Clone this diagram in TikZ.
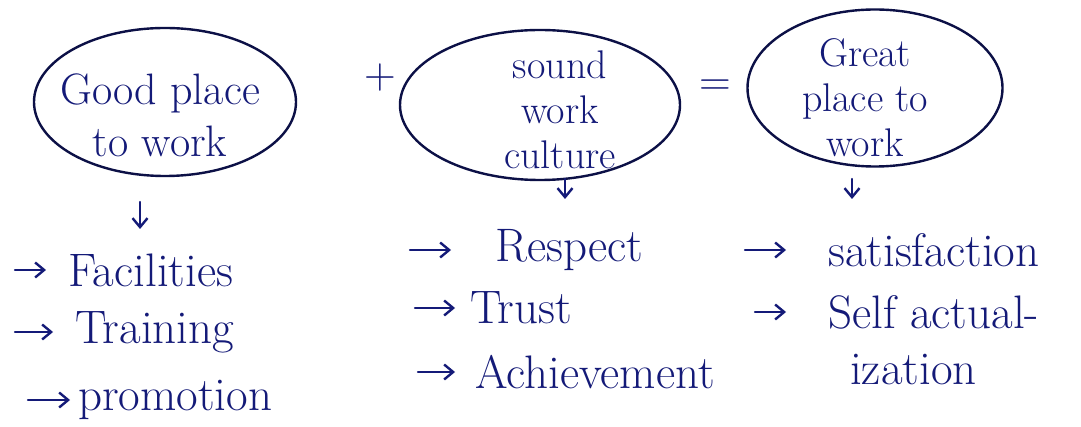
\documentclass[tikz,border=0pt]{standalone}
\usetikzlibrary{arrows.meta,shapes.geometric}
\definecolor{ink}{RGB}{20,26,120}
\definecolor{inkdark}{RGB}{12,16,70}
\begin{document}
\begin{tikzpicture}[x=1pt,y=-1pt,
  blob/.style={draw=inkdark, line width=2.4pt, ellipse, inner sep=0pt},
  hand/.style={text=ink, font=\fontsize{44}{52}\selectfont, inner sep=0pt, align=center},
  handsm/.style={text=ink, font=\fontsize{40}{45}\selectfont, inner sep=0pt, align=center},
  item/.style={text=ink, font=\fontsize{47}{52}\selectfont, inner sep=0pt, anchor=west},
  arr/.style={draw=ink, line width=2.4pt, line cap=round, -{Straight Barb[length=9pt,width=15pt]}},
  listarr/.style={arr, shorten >=22pt}]
\useasboundingbox[fill=white] (0,0) rectangle (1081,427);

% top row
\node[blob, minimum width=262pt, minimum height=148pt] (e1) at (165,102) {};
\node[hand] (t1) at (160,115) {Good place\\to work};
\node[hand] (plus) at (380,78) {+};
\node[blob, minimum width=280pt, minimum height=150pt] (e2) at (540,105) {};
\node[handsm] (t2) at (560,110) {sound\\work\\culture};
\node[hand] (eq) at (715,88) {=};
\node[blob, minimum width=255pt, minimum height=157pt] (e3) at (875,88) {};
\node[handsm] (t3) at (865,98) {Great\\place to\\work};

% down arrows
\coordinate (d1a) at (140,202); \coordinate (d1b) at (140,229);
\coordinate (d2a) at (565,179); \coordinate (d2b) at (565,199);
\coordinate (d3a) at (852,179); \coordinate (d3b) at (852,199);
\draw[arr] (d1a) -- (d1b);
\draw[arr] (d2a) -- (d2b);
\draw[arr] (d3a) -- (d3b);

% list 1
\node[item] (f1) at (68,270) {Facilities};
\node[item] (f2) at (75,332) {Training};
\node[item] (f3) at (78,400) {promotion};
\coordinate (f1a) at (15,270);
\coordinate (f2a) at (15,332);
\coordinate (f3a) at (28,400);
\draw[listarr] (f1a) -- (f1.west);
\draw[listarr] (f2a) -- (f2.west);
\draw[listarr,shorten >=8pt] (f3a) -- (f3.west);

% list 2
\node[item] (r1) at (495,250) {Respect};
\node[item] (r2) at (470,308) {Trust};
\node[item] (r3) at (475,372) {Achievement};
\coordinate (r1a) at (410,250);
\coordinate (r2a) at (415,308);
\coordinate (r3a) at (418,372);
\draw[listarr,shorten >=44pt] (r1a) -- (r1.west);
\draw[listarr,shorten >=15pt] (r2a) -- (r2.west);
\draw[listarr,shorten >=20pt] (r3a) -- (r3.west);

% list 3
\node[item] (s1) at (828,250) {satisfaction};
\node[item] (s2) at (828,312) {Self actual-};
\node[item] (s3) at (850,370) {ization};
\coordinate (s1a) at (745,250);
\coordinate (s2a) at (755,312);
\draw[listarr,shorten >=42pt] (s1a) -- (s1.west);
\draw[listarr,shorten >=42pt] (s2a) -- (s2.west);
\end{tikzpicture}
\end{document}
